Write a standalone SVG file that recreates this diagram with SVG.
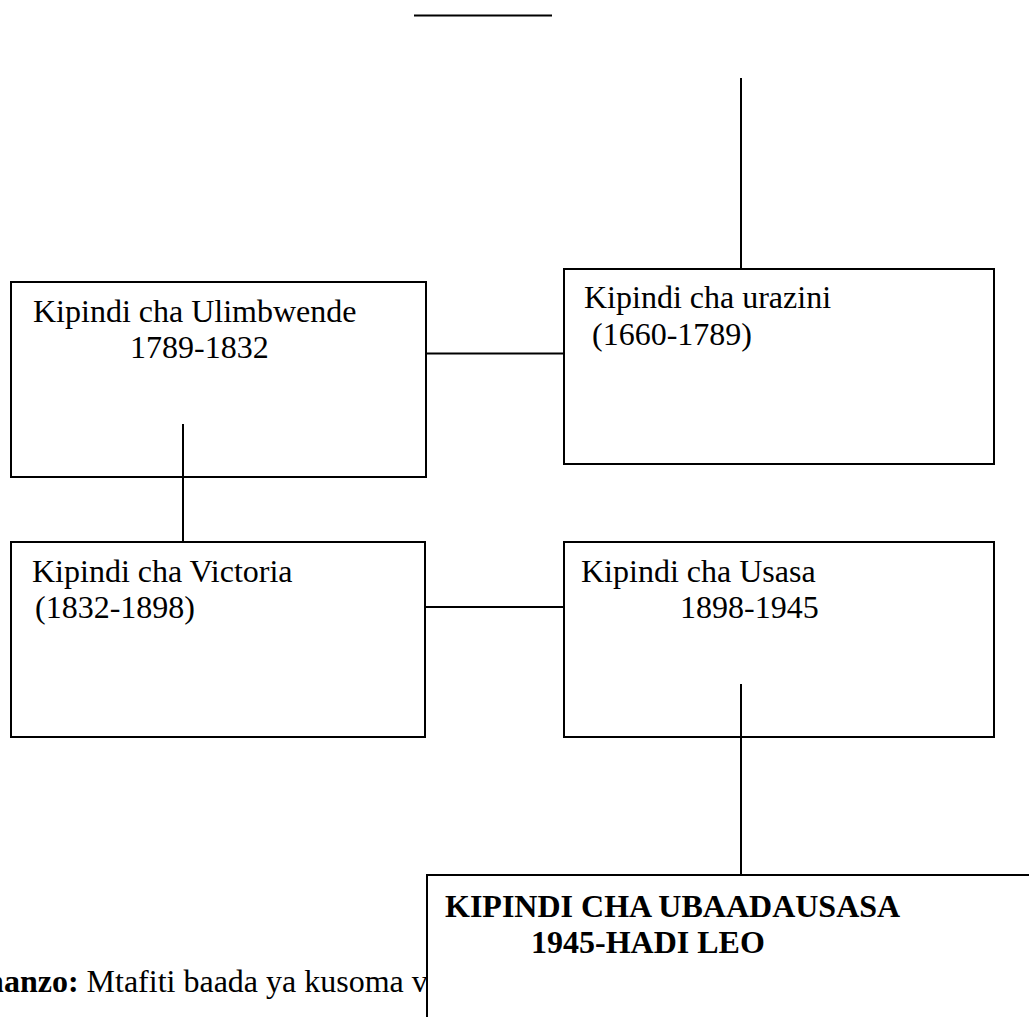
<svg xmlns="http://www.w3.org/2000/svg" width="1029" height="1017" viewBox="0 0 1029 1017">
<style>
.box{fill:#fff;stroke:#000;stroke-width:2}
.ln{stroke:#000;stroke-width:2;fill:none}
.t{font-family:"Liberation Serif","Times New Roman",serif;font-size:32px;fill:#000}
.b{font-weight:bold}
</style>
<rect width="1029" height="1017" fill="#fff"/>
<line class="ln" x1="414" y1="15.5" x2="552" y2="15.5" stroke-width="3"/>
<text class="t" x="-37" y="992"><tspan class="b">Chanzo:</tspan> Mtafiti baada ya kusoma v</text>
<g id="connectors">
<line class="ln" x1="741" y1="78" x2="741" y2="269"/>
<line class="ln" x1="426" y1="353.5" x2="564" y2="353.5"/>
<line class="ln" x1="183" y1="424" x2="183" y2="542"/>
<line class="ln" x1="425" y1="607" x2="564" y2="607"/>
<line class="ln" x1="741" y1="684" x2="741" y2="875"/>
</g>
<g id="urazini">
<rect class="box" x="564" y="269" width="430" height="195"/>
<text class="t" x="584" y="308">Kipindi cha urazini</text>
<text class="t" x="592" y="345">(1660-1789)</text>
</g>
<g id="ulimbwende">
<rect class="box" x="11" y="282" width="415" height="195" style="fill:none"/>
<text class="t" x="33" y="322">Kipindi cha Ulimbwende</text>
<text class="t" x="130" y="358">1789-1832</text>
</g>
<g id="victoria">
<rect class="box" x="11" y="542" width="414" height="195"/>
<text class="t" x="32" y="582">Kipindi cha Victoria</text>
<text class="t" x="35" y="618">(1832-1898)</text>
</g>
<g id="usasa">
<rect class="box" x="564" y="542" width="430" height="195" style="fill:none"/>
<text class="t" x="581" y="582">Kipindi cha Usasa</text>
<text class="t" x="680" y="618">1898-1945</text>
</g>
<g id="ubaadausasa">
<rect class="box" x="427" y="875" width="610" height="160"/>
<text class="t b" x="445" y="917">KIPINDI CHA UBAADAUSASA</text>
<text class="t b" x="531" y="953">1945-HADI LEO</text>
</g>
</svg>
